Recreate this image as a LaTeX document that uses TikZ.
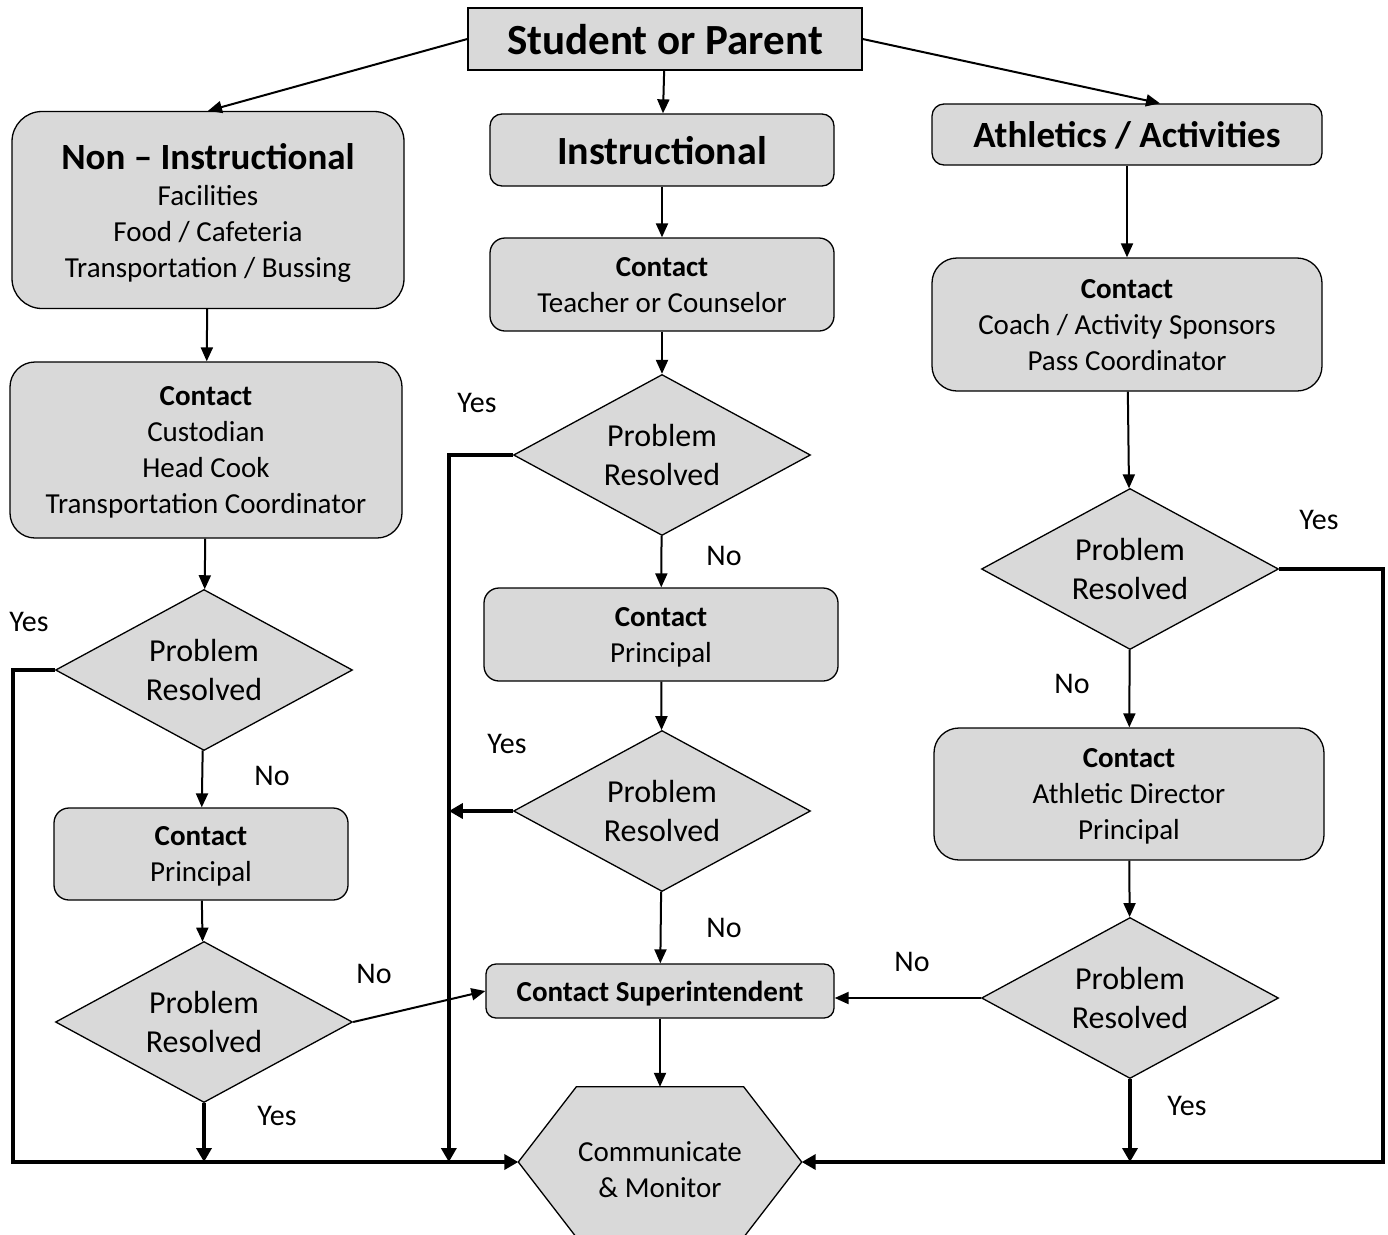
\documentclass[tikz,border=0pt]{standalone}
\usepackage{fontspec}
\setmainfont{Carlito}
\usetikzlibrary{shapes.geometric,arrows.meta}
\definecolor{boxgray}{HTML}{D9D9D9}

\begin{document}
\begin{tikzpicture}[x=1pt,y=-1pt,
  box/.style={draw,line width=1.3,fill=boxgray,align=center,inner sep=0,text depth=0pt,font=\fontsize{29}{36}\selectfont},
  rbox/.style={box,rounded corners=#1},
  decision/.style={box,diamond,aspect=1.845,minimum width=297,minimum height=161,font=\fontsize{32}{39}\selectfont},
  lab/.style={inner sep=0,font=\fontsize{30}{36}\selectfont},
  thinarrow/.style={line width=2,-{Triangle[length=14pt,width=12pt]}},
  thickarrow/.style={line width=4.5,-{Triangle[length=14pt,width=15pt]}}]
\useasboundingbox (0,0) rectangle (1388,1234);

% top
\node[box,minimum width=394,minimum height=62,font=\fontsize{43}{50}\selectfont\bfseries] (student) at (665,39) {Student or Parent};
\node[rbox=30,minimum width=392,minimum height=197] (nonins) at (208,210)
  {{\fontsize{37}{44}\selectfont\bfseries Non -- Instructional}\\Facilities\\Food / Cafeteria\\Transportation / Bussing};
\node[rbox=12,minimum width=344,minimum height=72,font=\fontsize{40}{48}\selectfont\bfseries] (instr) at (662,150) {Instructional};
\node[rbox=12,minimum width=390,minimum height=61,font=\fontsize{37}{44}\selectfont\bfseries] (athl) at (1127,134.5) {Athletics / Activities};

% non-instructional column
\node[rbox=25,minimum width=392,minimum height=176] (ncontact) at (206,450)
  {\textbf{Contact}\\Custodian\\Head Cook\\Transportation Coordinator};
\node[decision] (ndec1) at (204,670) {Problem\\Resolved};
\node[rbox=15,minimum width=294,minimum height=92] (nprin) at (201,854) {\textbf{Contact}\\Principal};
\node[decision] (ndec2) at (204,1022) {Problem\\Resolved};

% instructional column
\node[rbox=15,minimum width=344,minimum height=93] (teacher) at (662,284.5) {\textbf{Contact}\\Teacher or Counselor};
\node[decision] (idec1) at (662,455) {Problem\\Resolved};
\node[rbox=15,minimum width=354,minimum height=93] (iprin) at (661,634.5) {\textbf{Contact}\\Principal};
\node[decision] (idec2) at (662,811) {Problem\\Resolved};
\node[rbox=10,minimum width=348,minimum height=54,font=\fontsize{29}{36}\selectfont\bfseries] (super) at (660,991) {Contact Superintendent};
\node[minimum width=283,minimum height=150,inner sep=0] (monitor) at (660,1162) {};
\draw[line width=1.3,fill=boxgray] (monitor.west) -- ([xshift=58pt]monitor.north west) -- ([xshift=-58pt]monitor.north east)
  -- (monitor.east) -- ([xshift=-58pt]monitor.south east) -- ([xshift=58pt]monitor.south west) -- cycle;
\node[align=center,inner sep=0,font=\fontsize{29}{36}\selectfont] (monitortext) at (660,1170) {Communicate\\\& Monitor};

% athletics column
\node[rbox=25,minimum width=390,minimum height=133] (acontact) at (1127,324.5) {\textbf{Contact}\\Coach / Activity Sponsors\\Pass Coordinator};
\node[decision] (adec1) at (1130,569) {Problem\\Resolved};
\node[rbox=25,minimum width=390,minimum height=132] (adirector) at (1129,794) {\textbf{Contact}\\Athletic Director\\Principal};
\node[decision] (adec2) at (1130,998) {Problem\\Resolved};

% labels
\node[lab] (yes1) at (29,622) {Yes};
\node[lab] (no1) at (272,776) {No};
\node[lab] (no2) at (374,974) {No};
\node[lab] (yes2) at (277,1116) {Yes};
\node[lab] (yes3) at (477,403) {Yes};
\node[lab] (no3) at (724,556) {No};
\node[lab] (yes4) at (507,744) {Yes};
\node[lab] (no4) at (724,928) {No};
\node[lab] (yes5) at (1319,520) {Yes};
\node[lab] (no5) at (1072,684) {No};
\node[lab] (no6) at (912,962) {No};
\node[lab] (yes6) at (1187,1106) {Yes};

% thin arrows
\draw[thinarrow] (student.west) -- (nonins.north);
\draw[thinarrow] (student) -- (instr);
\draw[thinarrow] (student.east) -- ([xshift=33pt]athl.north);
\draw[thinarrow] (nonins) -- (ncontact);
\draw[thinarrow] (ncontact) -- (ndec1);
\draw[thinarrow] (ndec1) -- (nprin);
\draw[thinarrow] (nprin) -- (ndec2);
\draw[thinarrow] (ndec2.east) -- (super.west);
\draw[thinarrow] (instr) -- (teacher);
\draw[thinarrow] (teacher) -- (idec1);
\draw[thinarrow] (idec1) -- (iprin);
\draw[thinarrow] (iprin) -- (idec2);
\draw[thinarrow] (idec2) -- (super);
\draw[thinarrow] (super) -- (monitor.north);
\draw[thinarrow] (athl) -- (acontact);
\draw[thinarrow] (acontact) -- (adec1);
\draw[thinarrow] (adec1) -- (adirector);
\draw[thinarrow] (adirector) -- (adec2);
\draw[thinarrow] (adec2.west) -- (super.east |- adec2.west);

% thick yes lines
\draw[thickarrow] (ndec1.west) -- ++(-42,0) |- (monitor.west);
\draw[thickarrow] (ndec2.south) -- (ndec2.south |- monitor.west);
\draw[thickarrow] (idec1.west) -- ++(-64,0) coordinate (ybus) -- (ybus |- monitor.west);
\draw[thickarrow] (idec2.west) -- (ybus |- idec2.west);
\draw[thickarrow] (adec1.east) -- ++(104,0) |- (monitor.east);
\draw[thickarrow] (adec2.south) -- (adec2.south |- monitor.east);
\end{tikzpicture}
\end{document}
